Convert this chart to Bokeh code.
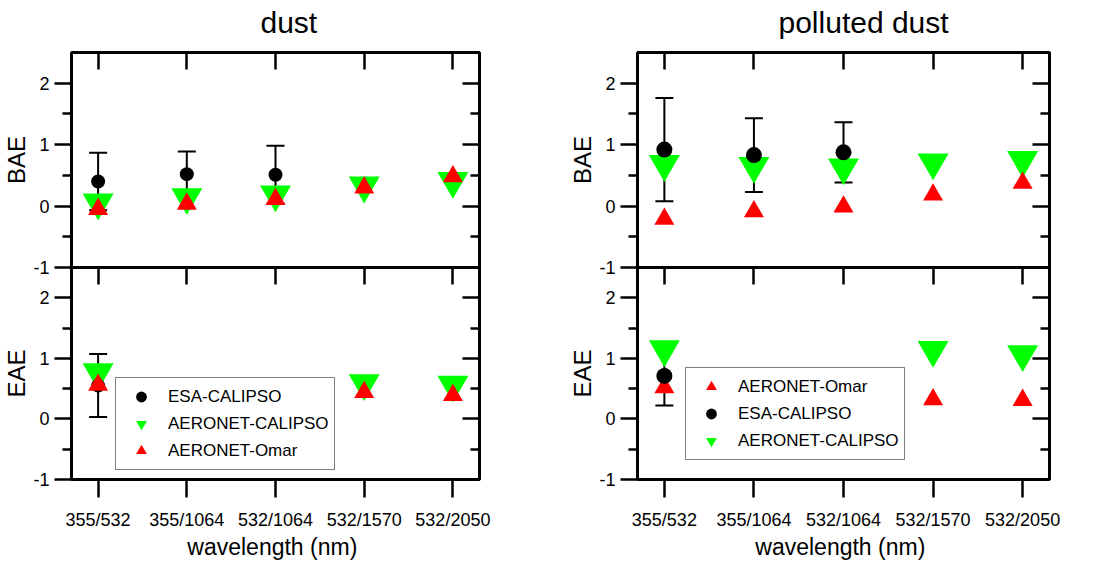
from bokeh.plotting import figure
from bokeh.models import (Range1d, FixedTicker, LinearAxis, Whisker, ColumnDataSource,
                          Legend, LegendItem, TeeHead)
from bokeh.layouts import column, row
from bokeh.embed import file_html
from bokeh.resources import INLINE

NaN = float("nan")

categories = ["355/532", "355/1064", "532/1064", "532/1570", "532/2050"]
y_ticks = [-1, 0, 1, 2]
y_minor = [-0.5, 0.5, 1.5]

# ---- dust ----
dust_bae_esa = [0.40, 0.52, 0.51, NaN, NaN]
dust_bae_esa_err = [0.47, 0.37, 0.47, NaN, NaN]
dust_bae_aer_calipso = [0.06, 0.145, 0.19, 0.335, 0.41]
dust_bae_aer_omar = [-0.05, 0.035, 0.11, 0.30, 0.48]

dust_eae_esa = [0.55, NaN, NaN, NaN, NaN]
dust_eae_esa_err = [0.52, NaN, NaN, NaN, NaN]
dust_eae_aer_calipso = [0.77, NaN, NaN, 0.59, 0.565]
dust_eae_aer_omar = [0.56, NaN, NaN, 0.44, 0.39]

# ---- polluted dust ----
pol_bae_esa = [0.92, 0.83, 0.875, NaN, NaN]
pol_bae_esa_err = [0.84, 0.60, 0.49, NaN, NaN]
pol_bae_aer_calipso = [0.685, 0.655, 0.63, 0.71, 0.75]
pol_bae_aer_omar = [-0.21, -0.09, -0.01, 0.185, 0.375]

pol_eae_esa = [0.71, NaN, NaN, NaN, NaN]
pol_eae_esa_err = [0.49, NaN, NaN, NaN, NaN]
pol_eae_aer_calipso = [1.15, NaN, NaN, 1.14, 1.07]
pol_eae_aer_omar = [0.52, NaN, NaN, 0.32, 0.31]

FONT = "Liberation Sans"
GREEN = "#00FF00"
RED = "#FF0000"
xs = list(range(1, len(categories) + 1))
OVERLAP = 10   # shared border between upper and lower panels
LIFT = 10      # extra head room so the titles can sit higher


def panel(width, height, b_left, b_right, b_top, b_bottom, ylabel, title=None,
          title_offset=0, bottom=False):
    p = figure(width=width, height=height, x_range=Range1d(0.7, 5.3), y_range=Range1d(-1, 2.5),
               output_backend="svg", toolbar_location=None, x_axis_type=None, y_axis_type=None,
               min_border_left=b_left, min_border_right=b_right, min_border_top=b_top,
               min_border_bottom=b_bottom, title=title)
    p.outline_line_color = "black"
    p.outline_line_width = 3
    p.background_fill_color = "white"
    p.border_fill_color = "white"
    if title is not None:
        p.title.align = "left"
        p.title.vertical_align = "top"
        p.title.offset = title_offset
        p.title.text_font = FONT
        p.title.text_font_size = "30px"
        p.title.text_font_style = "normal"
        p.title.text_color = "black"
        p.title.standoff = 14 + LIFT - 1

    yt = FixedTicker(ticks=y_ticks, minor_ticks=y_minor)
    left = LinearAxis(ticker=yt, axis_label=ylabel,
                      major_label_overrides={float(t): str(t) for t in y_ticks},
                      major_tick_out=17, major_tick_in=0, minor_tick_out=9, minor_tick_in=0,
                      axis_line_color=None, major_tick_line_width=2.5, minor_tick_line_width=2.5,
                      major_tick_line_color="black", minor_tick_line_color="black",
                      major_label_text_font=FONT, major_label_text_font_size="18px",
                      major_label_text_color="black", major_label_standoff=5,
                      axis_label_text_font=FONT, axis_label_text_color="black",
                      axis_label_text_font_size="24px", axis_label_text_font_style="normal",
                      axis_label_standoff=0)
    p.add_layout(left, "left")
    right = LinearAxis(ticker=FixedTicker(ticks=y_ticks, minor_ticks=y_minor),
                       major_tick_out=0, major_tick_in=17, minor_tick_out=0, minor_tick_in=9,
                       axis_line_color=None, major_tick_line_width=2.5, minor_tick_line_width=2.5,
                       major_tick_line_color="black", minor_tick_line_color="black",
                       major_label_text_font_size="0px", major_label_text_color=None,
                       major_label_standoff=0)
    p.add_layout(right, "right")
    top = LinearAxis(ticker=FixedTicker(ticks=xs, minor_ticks=[]),
                     major_tick_out=0, major_tick_in=17, axis_line_color=None,
                     major_tick_line_width=2.5, major_tick_line_color="black",
                     major_label_text_font_size="0px", major_label_text_color=None,
                     major_label_standoff=0)
    p.add_layout(top, "above")
    if bottom:
        bx = LinearAxis(ticker=FixedTicker(ticks=xs, minor_ticks=[]),
                        major_label_overrides={float(x): c for x, c in zip(xs, categories)},
                        axis_label="wavelength  (nm)",
                        major_tick_out=18, major_tick_in=0, axis_line_color=None,
                        major_tick_line_width=2.5, major_tick_line_color="black",
                        major_label_text_font=FONT, major_label_text_color="black",
                        major_label_text_font_size="18px", major_label_standoff=12,
                        axis_label_text_font=FONT, axis_label_text_color="black",
                        axis_label_text_font_size="23px",
                        axis_label_text_font_style="normal", axis_label_standoff=1)
        p.add_layout(bx, "below")
    return p


def add_series(p, esa, esa_err, aer_cal, aer_omar, circle_size, order):
    rs = {}
    for name in order:
        if name == "cal":
            rs[name] = p.scatter(xs, aer_cal, marker="inverted_triangle", size=31,
                                 fill_color=GREEN, line_color=None)
        elif name == "esa":
            rs[name] = p.scatter(xs, esa, marker="circle", size=circle_size,
                                 fill_color="black", line_color=None)
        elif name == "omar":
            rs[name] = p.scatter(xs, aer_omar, marker="triangle", size=20,
                                 fill_color=RED, line_color=None)
    idx = [i for i, v in enumerate(esa) if v == v]
    src = ColumnDataSource(dict(
        base=[xs[i] for i in idx],
        upper=[esa[i] + esa_err[i] for i in idx],
        lower=[esa[i] - esa_err[i] for i in idx]))
    w = Whisker(source=src, base="base", upper="upper", lower="lower", dimension="height",
                line_color="black", line_width=2,
                upper_head=TeeHead(size=18, line_width=2, line_color="black"),
                lower_head=TeeHead(size=18, line_width=2, line_color="black"))
    p.add_layout(w)
    return rs


def add_legend(p, items, loc):
    lg = Legend(items=[LegendItem(label=l, renderers=[r]) for l, r in items], location=loc,
                border_line_color="black", border_line_width=1.5, label_text_font=FONT,
                label_text_color="black",
                label_text_font_size="17px", glyph_width=40, glyph_height=27, spacing=0,
                padding=5, label_standoff=7, margin=0, background_fill_color="white",
                background_fill_alpha=1.0, label_height=20)
    p.add_layout(lg)


WL, WR = 548, 549
tl = panel(WL, 267 + OVERLAP + LIFT, 71, WL - 479, 52 + LIFT, OVERLAP, "BAE", title="dust",
           title_offset=189)
add_series(tl, dust_bae_esa, dust_bae_esa_err, dust_bae_aer_calipso, dust_bae_aer_omar, 14,
           ["cal", "esa", "omar"])

bl = panel(WL, 295, 71, WL - 479, 0, 80, "EAE", bottom=True)
bl.border_fill_alpha = 0
r = add_series(bl, dust_eae_esa, dust_eae_esa_err, dust_eae_aer_calipso, dust_eae_aer_omar, 14,
               ["cal", "esa", "omar"])
add_legend(bl, [("ESA-CALIPSO", r["esa"]), ("AERONET-CALIPSO", r["cal"]),
                ("AERONET-Omar", r["omar"])], (44, 9))

tr = panel(WR, 267 + OVERLAP + LIFT, 637 - WL, 1097 - 1049, 52 + LIFT, OVERLAP, "BAE",
           title="polluted dust", title_offset=141)
add_series(tr, pol_bae_esa, pol_bae_esa_err, pol_bae_aer_calipso, pol_bae_aer_omar, 16,
           ["cal", "omar", "esa"])

br = panel(WR, 295, 637 - WL, 1097 - 1049, 0, 80, "EAE", bottom=True)
br.border_fill_alpha = 0
r = add_series(br, pol_eae_esa, pol_eae_esa_err, pol_eae_aer_calipso, pol_eae_aer_omar, 16,
               ["cal", "omar", "esa"])
add_legend(br, [("AERONET-Omar", r["omar"]), ("ESA-CALIPSO", r["esa"]),
                ("AERONET-CALIPSO", r["cal"])], (48, 19))

top_row = row(tl, tr, spacing=0, styles={"margin-top": f"-{LIFT}px"})
bottom_row = row(bl, br, spacing=0, styles={"margin-top": f"-{OVERLAP}px"})
layout = column(top_row, bottom_row, spacing=0)
open("out.html", "w").write(file_html(layout, INLINE))
